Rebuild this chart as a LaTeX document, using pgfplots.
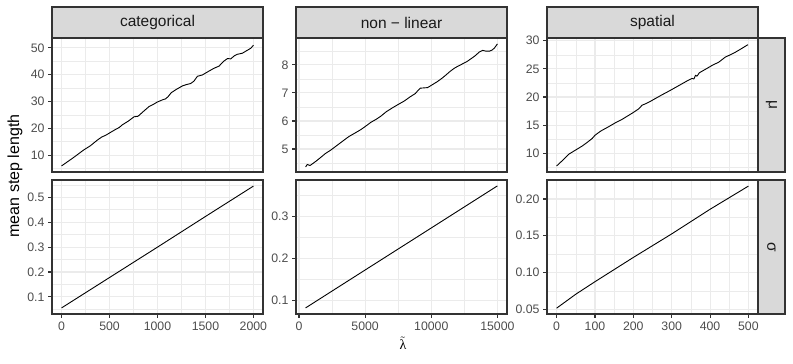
\documentclass[border=0pt]{standalone}
\usepackage{fontspec}
\setmainfont{Liberation Sans}
\newfontfamily\serifgreek{Liberation Serif}
\usepackage{pgfplots}
\pgfplotsset{compat=1.18}
\definecolor{g10}{HTML}{1A1A1A}
\definecolor{g20}{HTML}{333333}
\definecolor{g30}{HTML}{4D4D4D}
\definecolor{g85}{HTML}{D9D9D9}
\definecolor{g92}{HTML}{EBEBEB}

\pgfplotsset{
  facet/.style={
    scale only axis, width=211pt, height=134pt,
    anchor=south west,
    axis line style={g20, line width=1.1pt},
    tick align=outside, tick pos=left,
    major tick length=4pt,
    tick style={g20, line width=1.1pt},
    minor tick length=0pt,
    grid=both,
    major grid style={g92, line width=1.1pt},
    minor grid style={g92, line width=0.55pt},
    tick label style={font=\fontsize{12.3pt}{14pt}\selectfont, text=g30},
    scaled ticks=false,
    /pgf/number format/fixed,
    /pgf/number format/1000 sep={},
    /pgf/number format/assume math mode=true,
  },
  toprow/.style={xticklabels={}, xtick style={draw=none}},
  curve/.style={black, line width=0.9pt, line join=round},
}
\tikzset{
  strip/.style={draw=g20, fill=g85, line width=1.1pt},
  striptext/.style={text=g10, font=\fontsize{15.5pt}{18pt}\selectfont},
}

\begin{document}
\begin{tikzpicture}
\useasboundingbox (0,0) rectangle (793pt,364pt);

% ---- top row: mu
\begin{axis}[facet, toprow, name=t1, at={(52pt,192pt)},
  xmin=-100, xmax=2100, xtick={0,500,1000,1500,2000},
  minor xtick={250,750,1250,1750},
  ymin=3.73, ymax=53.67, ytick={10,20,30,40,50},
  minor ytick={5,15,25,35,45}]
\addplot[curve] coordinates {
(0,6.0) (60,7.5) (120,9.0) (180,10.6) (233,12.0) (300,13.5) (372,15.6)
(420,16.8) (459,17.4) (520,18.7) (563,19.6) (600,20.3) (633,21.3)
(700,22.8) (755,24.3) (797,24.5) (850,26.2) (911,28.1) (960,29.0)
(998,29.8) (1050,30.6) (1085,31.0) (1110,31.8) (1144,33.3) (1200,34.6)
(1259,35.8) (1300,36.3) (1346,36.7) (1380,37.6) (1416,39.4) (1468,39.9)
(1530,41.2) (1590,42.4) (1642,43.2) (1690,45.0) (1729,46.0) (1764,45.9)
(1800,47.0) (1833,47.6) (1885,48.0) (1937,49.1) (1975,49.9) (2000,51.0)};
\end{axis}

\begin{axis}[facet, toprow, name=t2, at={(296pt,192pt)},
  xmin=-225, xmax=15725, xtick={0,5000,10000,15000},
  minor xtick={2500,7500,12500},
  ymin=4.18, ymax=8.96, ytick={5,6,7,8},
  minor ytick={4.5,5.5,6.5,7.5,8.5}]
\addplot[curve] coordinates {
(500,4.36) (631,4.45) (833,4.41) (1010,4.47) (1300,4.57) (1641,4.70)
(2000,4.84) (2399,4.96) (2904,5.14) (3300,5.28) (3788,5.45) (4200,5.56)
(4671,5.69) (5000,5.80) (5429,5.95) (5800,6.05) (6186,6.17) (6600,6.33)
(7070,6.47) (7500,6.59) (7954,6.71) (8400,6.86) (8800,6.98) (8964,7.07)
(9166,7.17) (9721,7.19) (10100,7.30) (10479,7.41) (10800,7.52)
(11110,7.64) (11400,7.76) (11741,7.88) (12000,7.95) (12373,8.04)
(12700,8.12) (13004,8.22) (13300,8.32) (13635,8.46) (13888,8.52)
(14140,8.49) (14400,8.49) (14600,8.53) (14771,8.60) (15000,8.75)};
\end{axis}

\begin{axis}[facet, toprow, name=t3, at={(547pt,192pt)},
  xmin=-25, xmax=525, xtick={0,100,200,300,400,500},
  minor xtick={50,150,250,350,450},
  ymin=6.68, ymax=30.48, ytick={10,15,20,25,30},
  minor ytick={7.5,12.5,17.5,22.5,27.5}]
\addplot[curve] coordinates {
(0,7.75) (15,8.7) (32,9.85) (50,10.6) (67,11.3) (80,11.95) (93,12.65)
(100,13.2) (115,13.95) (135,14.7) (154,15.45) (170,16.0) (188,16.75)
(200,17.25) (214,17.9) (223,18.55) (232,18.8) (245,19.25) (258,19.75)
(275,20.4) (293,21.05) (310,21.7) (327,22.35) (340,22.85) (353,23.3)
(358,23.2) (362,23.85) (366,23.7) (372,24.3) (390,25.0) (405,25.6)
(423,26.2) (440,27.1) (453,27.5) (466,27.95) (482,28.6) (499,29.3)};
\end{axis}

% ---- bottom row: sigma
\begin{axis}[facet, name=b1, at={(52pt,50pt)},
  xmin=-100, xmax=2100, xtick={0,500,1000,1500,2000},
  minor xtick={250,750,1250,1750},
  ymin=0.0315, ymax=0.5695, ytick={0.1,0.2,0.3,0.4,0.5},
  minor ytick={0.05,0.15,0.25,0.35,0.45,0.55}]
\addplot[curve] coordinates {
(0,0.056) (500,0.178) (1000,0.300) (1500,0.423) (2000,0.545)};
\end{axis}

\begin{axis}[facet, name=b2, at={(296pt,50pt)},
  xmin=-225, xmax=15725, xtick={0,5000,10000,15000},
  minor xtick={2500,7500,12500},
  ymin=0.068, ymax=0.387, ytick={0.1,0.2,0.3},
  minor ytick={0.15,0.25,0.35}]
\addplot[curve] coordinates {
(500,0.0825) (5000,0.1727) (10000,0.2728) (15000,0.373)};
\end{axis}

\begin{axis}[facet, name=b3, at={(547pt,50pt)},
  xmin=-25, xmax=525, xtick={0,100,200,300,400,500},
  minor xtick={50,150,250,350,450},
  ymin=0.0436, ymax=0.2258, ytick={0.05,0.10,0.15,0.20},
  minor ytick={0.075,0.125,0.175,0.225},
  yticklabel style={/pgf/number format/precision=2,
                    /pgf/number format/zerofill}]
\addplot[curve] coordinates {
(0,0.0515) (25,0.061) (50,0.0705) (100,0.0875) (150,0.104) (200,0.1205)
(300,0.1525) (400,0.186) (500,0.2175)};
\end{axis}

% ---- facet strips
\draw[strip] (t1.north west) rectangle ([yshift=31pt]t1.north east);
\node[striptext] at ([yshift=15.5pt]t1.north) {categorical};
\draw[strip] (t2.north west) rectangle ([yshift=31pt]t2.north east);
\node[striptext] at ([yshift=15.5pt]t2.north) {non − linear};
\draw[strip] (t3.north west) rectangle ([yshift=31pt]t3.north east);
\node[striptext] at ([yshift=15.5pt]t3.north) {spatial};
\draw[strip] (t3.south east) rectangle ([xshift=27pt]t3.north east);
\node[striptext, rotate=-90] at ([xshift=13.5pt]t3.east) {μ};
\draw[strip] (b3.south east) rectangle ([xshift=27pt]b3.north east);
\node[striptext, rotate=-90] at ([xshift=13.5pt]b3.east) {σ};

% ---- axis titles
\node[rotate=90, font=\fontsize{16pt}{19pt}\selectfont] at (15pt,188pt) {mean step length};
\node[font=\fontsize{14pt}{17pt}\selectfont, anchor=base, inner sep=0pt] at (403pt,14pt)
  {$\tilde{\hbox{\serifgreek λ}}$};
\end{tikzpicture}
\end{document}
